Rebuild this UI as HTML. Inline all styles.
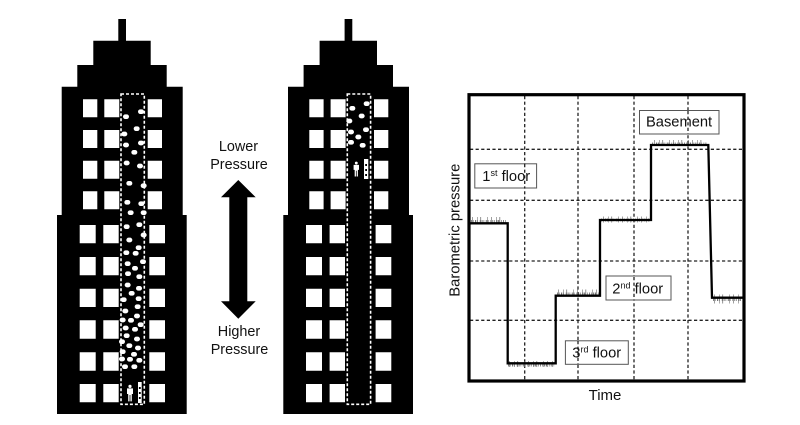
<!DOCTYPE html>
<html>
<head>
<meta charset="utf-8">
<style>
html,body{margin:0;padding:0;background:#fff;width:800px;height:425px;overflow:hidden}
svg{display:block;filter:blur(.3px)}
text{font-family:"Liberation Sans",sans-serif;fill:#111}
</style>
</head>
<body>
<svg width="800" height="425" viewBox="0 0 800 425" xmlns="http://www.w3.org/2000/svg">
<defs>
<g id="bldg">
<path fill="#000" d="M118.3 19H126V40.7H150.7V65H166.7V86.7H182.7V215H186.7V414H57V215H61.7V86.7H77.3V65H93.3V40.7H118.3Z"/>
<path fill="#fff" d="M83 99.3h14.3v18H83zM104.3 99.3h15v18h-15zM147.7 99.3h14.3v18h-14.3zM83 130h14.3v18H83zM104.3 130h15v18h-15zM147.7 130h14.3v18h-14.3zM83 160.7h14.3v18H83zM104.3 160.7h15v18h-15zM147.7 160.7h14.3v18h-14.3zM83 191.3h14.3v18H83zM104.3 191.3h15v18h-15zM147.7 191.3h14.3v18h-14.3z"/>
<path fill="#fff" d="M79.7 225h16v18.3h-16zM103.3 225h15.4v18.3h-15.4zM149.3 225H165v18.3h-15.7zM79.7 257h16v18.3h-16zM103.3 257h15.4v18.3h-15.4zM149.3 257H165v18.3h-15.7zM79.7 288.7h16V307h-16zM103.3 288.7h15.4V307h-15.4zM149.3 288.7H165V307h-15.7zM79.7 320.3h16v18.4h-16zM103.3 320.3h15.4v18.4h-15.4zM149.3 320.3H165v18.4h-15.7zM79.7 352.3h16v18.4h-16zM103.3 352.3h15.4v18.4h-15.4zM149.3 352.3H165v18.4h-15.7zM79.7 384h16v18.3h-16zM103.3 384h15.4v18.3h-15.4zM149.3 384H165v18.3h-15.7z"/>
<rect x="121" y="94" width="23.3" height="310.3" fill="none" stroke="#fff" stroke-width="1.6" stroke-dasharray="3 2"/>
</g>
<g id="person">
<circle cx="0" cy="-6.6" r="1.6" fill="#fff"/>
<path fill="#fff" d="M-3-4.6H3V1H1.8V8.4H.4V2H-.4V8.4H-1.8V1H-3Z"/>
</g>
</defs>

<use href="#bldg"/>
<use href="#bldg" transform="translate(226.3 0)"/>

<g transform="translate(40 0) scale(.33333)" fill="none" stroke="#fff" stroke-width="14" stroke-linecap="round">
<path d="M301 335h4M256 350h4M288 386h4M251 402h4M301 429h4M256 435h4M281 457h4M258 489h4M298 498h4M266 550h4M309 557h4M260 607h4M302 611h4M270 638h4M309 638h4"/>
</g>
<g transform="translate(40 210) scale(.33333)" fill="none" stroke="#fff" stroke-width="14" stroke-linecap="round">
<path d="M258 50h4M296 44h4M309 75h4M266 90h4M294 113h4M257 128h4M285 130h4M307 155h4M261 161h4M283 175h4M262 191h4M296 200h4M261 225h4M295 235h4M273 250h4M249 269h4M294 266h4M291 290h4M254 303h4M289 318h4M246 330h4M271 331h4M300 344h4M255 354h4M283 358h4M258 377h4M289 387h4M244 395h4M266 407h4M292 414h4M246 425h4M280 433h4M244 447h4M268 448h4M296 451h4M253 470h4M281 470h4"/>
</g>
<g transform="translate(270 0) scale(.33333)" fill="none" stroke="#fff" stroke-width="14" stroke-linecap="round">
<path d="M288 311h4M245 325h4M273 348h4M236 363h4M286 389h4M241 396h4M263 411h4M241 427h4M276 436h4"/>
</g>

<use href="#person" x="130" y="393"/>
<rect x="138" y="382" width="3.7" height="21" fill="#fff"/>
<path d="M139.8 387v2M139.8 392v2M139.8 397v2" stroke="#000" stroke-width="1.8"/>

<g transform="translate(356.3 169) scale(.9)"><use href="#person"/></g>
<rect x="364" y="159" width="4.3" height="20" fill="#fff"/>
<path d="M366.1 164v2M366.1 169v2M366.1 174v2" stroke="#000" stroke-width="1.8"/>

<path fill="#000" d="M238.3 180L255.7 197.3H247.3V301.3H255.7L238.3 318.7L221 301.3H229.3V197.3H221Z"/>
<g font-size="14.4" text-anchor="middle">
<text x="238.5" y="151">Lower</text>
<text x="239" y="169">Pressure</text>
<text x="239" y="336">Higher</text>
<text x="239.5" y="354">Pressure</text>
</g>

<g stroke="#222" stroke-width="1.3" stroke-dasharray="3.2 2.4" fill="none">
<path d="M524.7 96V381M578 96V381M634 96V381M688 96V381"/>
<path d="M470 149.3H744M470 200.3H744M470 261H744M470 320.3H744"/>
</g>

<g fill="none" stroke="#666" stroke-width="3" stroke-dasharray=".8 1.1 .6 1.6 .9 .8 1 2 .6 1.3">
<path d="M471 221.5H507"/>
<path d="M508 365H555"/>
<path d="M557 294H599"/>
<path d="M601 220H650"/>
<path d="M652 144H707"/>
<path d="M713 299.5H741"/>
</g>
<g fill="none" stroke="#777" stroke-width="6" stroke-dasharray=".7 4.3 .6 2.7 .8 6.1 .6 3.3">
<path d="M472 220H506"/>
<path d="M509 364H554"/>
<path d="M558 292.5H598"/>
<path d="M603 219.5H648"/>
<path d="M654 143H706"/>
<path d="M714 299H740" stroke-width="9"/>
</g>

<path fill="none" stroke="#000" stroke-width="2.3" d="M470 223.3H507.7V363.3H555.7V295.7H600V220H651V145H708.3L712 297.7H743"/>
<rect x="469" y="94.7" width="275" height="286.3" fill="none" stroke="#000" stroke-width="3.2"/>

<g fill="#fff" stroke="#555" stroke-width="1">
<rect x="639.5" y="110.5" width="79.5" height="23.5"/>
<rect x="474.8" y="163.8" width="61.8" height="24.2"/>
<rect x="606" y="276" width="65" height="24"/>
<rect x="565.4" y="340.8" width="62.9" height="23.5"/>
</g>
<path stroke="#222" stroke-width="1.3" stroke-dasharray="3.2 2.4" fill="none" d="M524.7 164V188M634 277V300M688 111V134M578 341V364"/>

<g font-size="14.7">
<text x="646" y="126.7">Basement</text>
<text x="482.3" y="181">1<tspan font-size="9" dy="-5">st</tspan><tspan dy="5"> floor</tspan></text>
<text x="612.3" y="293.3">2<tspan font-size="9" dy="-5">nd</tspan><tspan dy="5"> floor</tspan></text>
<text x="572.3" y="357.7">3<tspan font-size="9" dy="-5">rd</tspan><tspan dy="5"> floor</tspan></text>
<text x="605" y="400" text-anchor="middle" font-size="15">Time</text>
</g>
<text transform="translate(459.5 296.7) rotate(-90)" font-size="14.8" textLength="133" lengthAdjust="spacingAndGlyphs">Barometric pressure</text>
</svg>
</body>
</html>
